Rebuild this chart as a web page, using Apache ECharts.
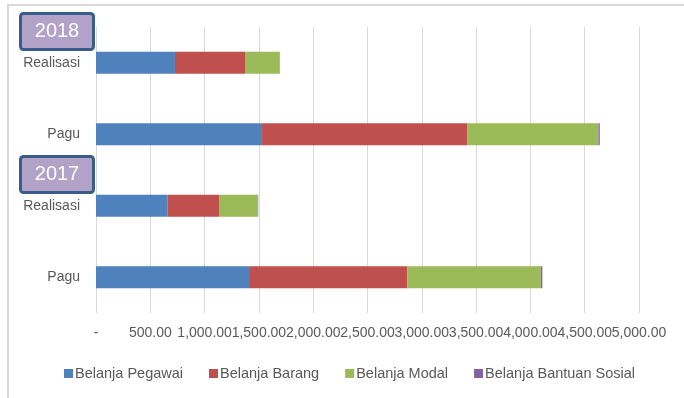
<!DOCTYPE html>
<html>
<head>
<meta charset="utf-8">
<script src="https://cdn.jsdelivr.net/npm/echarts@6/dist/echarts.min.js"></script>
<style>
  html, body { margin: 0; padding: 0; background: #fff; }
  #chart { width: 684px; height: 398px; }
</style>
</head>
<body>
<div id="chart"></div>
<script>
// Rows from bottom to top (category axis starts at the bottom)
const categories = ['Pagu', 'Realisasi', 'Pagu', 'Realisasi'];
const years = ['2017', '2017', '2018', '2018'];

// Spending per type, in the same row order
const belanjaPegawai = [1418, 660, 1529, 727];
const belanjaBarang = [1449, 473, 1888, 645];
const belanjaModal = [1229, 356, 1209, 316];
const belanjaBantuanSosial = [14, 5, 13, 4];

const seriesNames = ['Belanja Pegawai', 'Belanja Barang', 'Belanja Modal', 'Belanja Bantuan Sosial'];
const seriesColors = ['#4F81BD', '#C0504D', '#9BBB59', '#8064A2'];
const seriesValues = [belanjaPegawai, belanjaBarang, belanjaModal, belanjaBantuanSosial];

// Year badges drawn beside the groups
const yearBadges = ['2018', '2017'];

const FONT = '"Liberation Sans", Arial, sans-serif';
const TEXT = '#595959';

function fmt(v) {
  if (v === 0) return '-';
  return v.toLocaleString('en-US', { minimumFractionDigits: 2, maximumFractionDigits: 2 });
}

const chart = echarts.init(document.getElementById('chart'), null, { renderer: 'canvas' });

function badge(label, top) {
  return {
    type: 'group',
    left: 19,
    top: top,
    children: [
      {
        type: 'rect',
        shape: { x: 0, y: 0, width: 73, height: 36, r: 3 },
        style: { fill: '#B3A2C7', stroke: '#385D8A', lineWidth: 3 }
      },
      {
        type: 'text',
        x: 36.5,
        y: 18,
        style: {
          text: label,
          fill: '#ffffff',
          font: '20px ' + FONT,
          align: 'center',
          verticalAlign: 'middle'
        }
      }
    ]
  };
}

chart.setOption({
  animation: false,
  backgroundColor: '#ffffff',
  grid: { left: 96, right: 45, top: 27, bottom: 85, containLabel: false },
  legend: {
    left: 64,
    top: 366,
    padding: 0,
    icon: 'rect',
    itemWidth: 9,
    itemHeight: 9,
    itemGap: 26,
    textStyle: { color: TEXT, fontSize: 14.5, fontFamily: FONT, padding: [0, 0, 0, -3] },
    data: seriesNames
  },
  xAxis: {
    type: 'value',
    min: 0,
    max: 5000,
    interval: 500,
    axisLine: { show: false },
    axisTick: { show: false },
    splitLine: { show: true, lineStyle: { color: '#D9D9D9', width: 1 } },
    axisLabel: {
      color: TEXT,
      fontSize: 14,
      fontFamily: FONT,
      margin: 13,
      formatter: fmt
    }
  },
  yAxis: {
    type: 'category',
    data: categories,
    axisLine: { show: false },
    axisTick: { show: false },
    axisLabel: { color: TEXT, fontSize: 14, fontFamily: FONT, margin: 16 }
  },
  series: seriesNames.map((name, i) => ({
    name: name,
    type: 'bar',
    stack: 'total',
    barWidth: 22,
    itemStyle: { color: seriesColors[i] },
    data: seriesValues[i]
  })),
  graphic: [
    {
      type: 'rect',
      shape: { x: 8, y: 5, width: 700, height: 420 },
      style: { fill: 'none', stroke: '#D9D9D9', lineWidth: 2 },
      silent: true
    },
    badge(yearBadges[0], 12),
    badge(yearBadges[1], 155)
  ]
});
</script>
</body>
</html>
